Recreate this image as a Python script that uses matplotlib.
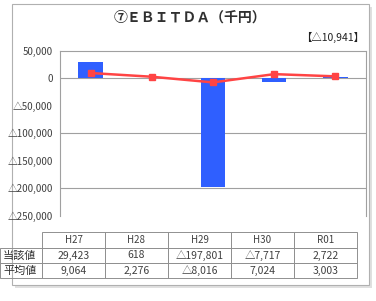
import matplotlib.pyplot as plt
from matplotlib.patches import Rectangle
from matplotlib.ticker import FuncFormatter

plt.rcParams['font.family'] = ['Noto Sans CJK JP', 'DejaVu Sans']

# data
years = ['H27', 'H28', 'H29', 'H30', 'R01']
current = [29423, 618, -197801, -7717, 2722]     # 当該値
average = [9064, 2276, -8016, 7024, 3003]        # 平均値
row_names = ['当該値', '平均値']
title = '⑦ＥＢＩＴＤＡ（千円）'
note = '【△10,941】'

W, H = 376, 301
fig = plt.figure(figsize=(W / 100, H / 100), dpi=100)

# background layer in pixel coords: frame, title, table
bg = fig.add_axes([0, 0, 1, 1])
bg.set_xlim(0, W)
bg.set_ylim(H, 0)
bg.axis('off')
bg.add_patch(Rectangle((15, 7), 357, 281, facecolor='#e0e0e0', edgecolor='none'))
bg.add_patch(Rectangle((12, 4), 357, 281, facecolor='white', edgecolor='#b0b0b0', lw=0.8))
bg.text(190, 18, title, ha='center', va='center', fontsize=10, fontweight='bold', color='#303030')
bg.text(364, 37, note, ha='right', va='center', fontsize=7.5, color='#202020')


def fmt(v):
    return ('△' if v < 0 else '') + format(abs(int(v)), ',')


# table
x0, lab_w, col_w = 0, 42, 63
y_head, y_r1, y_r2, y_end = 232, 248, 263, 278
tc = '#909090'
for j, yr in enumerate(years):
    xl = x0 + lab_w + j * col_w
    bg.add_patch(Rectangle((xl, y_head), col_w, y_r1 - y_head, fill=False, edgecolor=tc, lw=0.7))
    bg.text(xl + col_w / 2, (y_head + y_r1) / 2, yr, ha='center', va='center', fontsize=7, color='#404040')
rows = [current, average]
tops = [y_r1, y_r2, y_end]
for i, name in enumerate(row_names):
    yt, yb = tops[i], tops[i + 1]
    bg.add_patch(Rectangle((x0, yt), lab_w, yb - yt, fill=False, edgecolor=tc, lw=0.7))
    bg.text(x0 + 3, (yt + yb) / 2, name, ha='left', va='center', fontsize=8, color='#303030')
    for j, v in enumerate(rows[i]):
        xl = x0 + lab_w + j * col_w
        bg.add_patch(Rectangle((xl, yt), col_w, yb - yt, fill=False, edgecolor=tc, lw=0.7))
        bg.text(xl + col_w / 2, (yt + yb) / 2, fmt(v), ha='center', va='center', fontsize=7.5, color='#404040')

# chart
ax = fig.add_axes([60 / W, 1 - 215.5 / H, 306 / W, 165 / H])
ax.set_facecolor('white')
x = range(len(years))
ax.bar(x, current, width=0.4, color='#2f5fff', zorder=2)
ax.plot(x, average, color='#ff4444', lw=1.8, marker='s', markersize=4, zorder=3)
for g in (0, -100000, -200000):
    ax.axhline(g, color='#a0a0a0', lw=0.8, zorder=1)
ax.set_xlim(-0.5, len(years) - 0.5)
ax.set_ylim(-250000, 50000)
ax.set_yticks(range(-250000, 50001, 50000))
ax.yaxis.set_major_formatter(FuncFormatter(lambda v, p: fmt(v)))
ax.set_xticks([])
ax.tick_params(axis='y', length=0, labelsize=7, labelcolor='#404040', pad=5)
for s in ax.spines.values():
    s.set_color('#a0a0a0')
    s.set_linewidth(0.8)
ax.spines['bottom'].set_visible(False)

fig.savefig('out.png', dpi=100)
